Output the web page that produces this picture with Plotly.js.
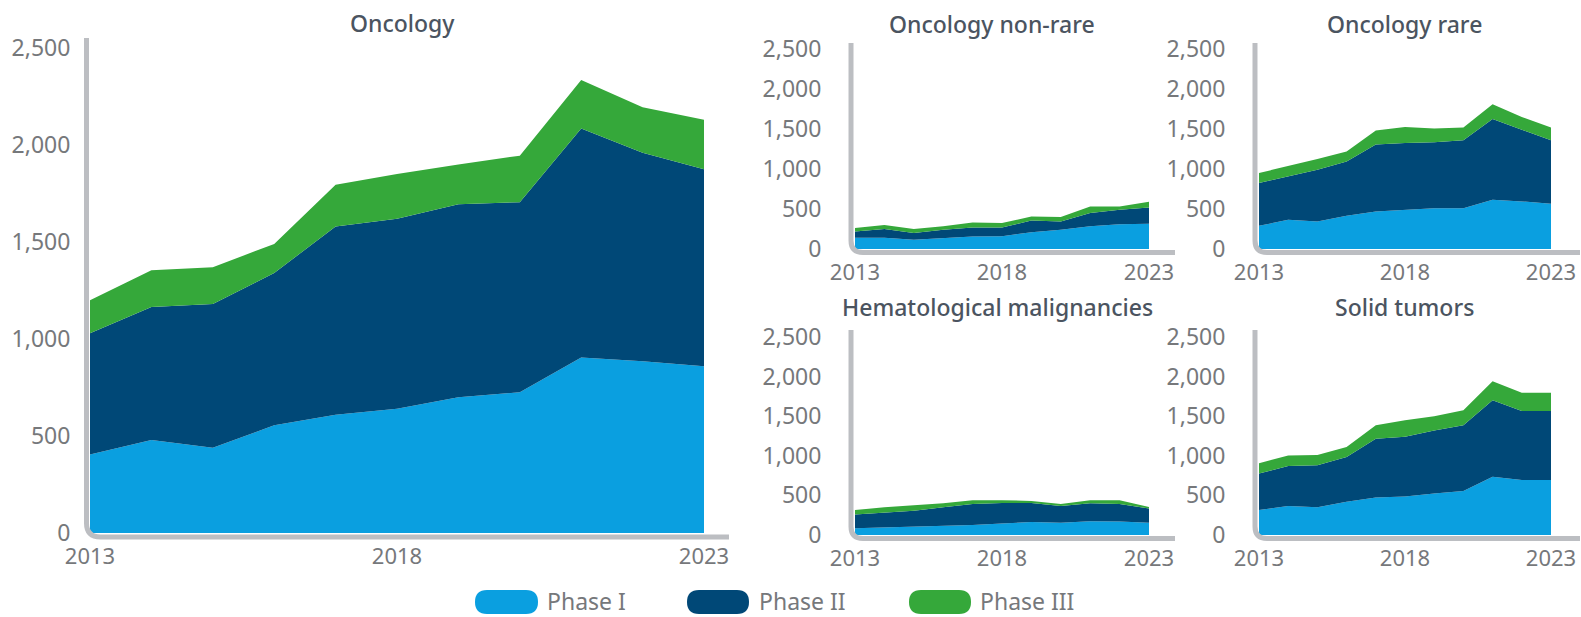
<!DOCTYPE html>
<html>
<head>
<meta charset="utf-8">
<script src="https://cdn.plot.ly/plotly-3.0.1.min.js"></script>
<style>
html,body{margin:0;padding:0;background:#fff;}
#chart{width:1581px;height:617px;}
</style>
</head>
<body>
<div id="chart"></div>
<script>
// ---------- data ----------
const years = [2013, 2014, 2015, 2016, 2017, 2018, 2019, 2020, 2021, 2022, 2023];
const phaseNames = ["Phase I", "Phase II", "Phase III"];
const panelTitles = ["Oncology", "Oncology non-rare", "Oncology rare", "Hematological malignancies", "Solid tumors"];
const yTickVals = [0, 500, 1000, 1500, 2000, 2500];
const xTickVals = [2013, 2018, 2023];

const oncologyPhase1 = [405, 480, 440, 555, 610, 640, 700, 725, 905, 885, 860];
const oncologyPhase2 = [625, 685, 740, 785, 970, 980, 995, 980, 1180, 1075, 1015];
const oncologyPhase3 = [170, 190, 190, 150, 215, 230, 205, 240, 250, 235, 255];

const nonRarePhase1 = [140, 140, 115, 135, 155, 160, 210, 240, 285, 310, 315];
const nonRarePhase2 = [80, 110, 85, 105, 115, 110, 145, 105, 165, 180, 205];
const nonRarePhase3 = [42, 50, 50, 43, 60, 55, 50, 55, 80, 40, 70];

const rarePhase1 = [290, 365, 345, 415, 470, 490, 510, 510, 615, 595, 565];
const rarePhase2 = [535, 545, 645, 680, 835, 835, 825, 850, 1010, 895, 795];
const rarePhase3 = [125, 125, 135, 125, 175, 200, 170, 160, 185, 160, 160];

const hemaPhase1 = [85, 95, 105, 120, 125, 145, 165, 155, 175, 170, 155];
const hemaPhase2 = [175, 190, 200, 230, 265, 260, 240, 210, 225, 220, 180];
const hemaPhase3 = [55, 65, 70, 50, 50, 35, 25, 25, 40, 50, 20];

const solidPhase1 = [315, 365, 350, 420, 475, 485, 525, 555, 735, 695, 695];
const solidPhase2 = [460, 505, 530, 565, 740, 755, 795, 830, 965, 870, 870];
const solidPhase3 = [130, 135, 130, 125, 170, 210, 180, 190, 240, 230, 230];

// ---------- styling ----------
const W = 1581, H = 617;
const px = v => v / W;
const py = v => 1 - v / H;
const colors = ["#0a9fe0", "#004877", "#35a83a"];
const axisGray = "#bcbec2";
const tickColor = "#76787b";
const titleColor = "#4b5460";
const FONT = "Noto Sans, Open Sans, sans-serif";

// panel geometry in pixels
const panels = [
  {sets: [oncologyPhase1, oncologyPhase2, oncologyPhase3], x0: 90, x1: 704, y0: 533, y1: 48, lx: 86.5, ly: 537, ltop: 38, lend: 729, r: 14, title: [402, 23], yStand: 14},
  {sets: [nonRarePhase1, nonRarePhase2, nonRarePhase3], x0: 855, x1: 1149, y0: 249, y1: 49, lx: 851, ly: 252.5, ltop: 43, lend: 1175, r: 12, title: [992, 24], yStand: 28},
  {sets: [rarePhase1, rarePhase2, rarePhase3], x0: 1259, x1: 1551, y0: 249, y1: 49, lx: 1255, ly: 252.5, ltop: 43, lend: 1580, r: 12, title: [1404, 24], yStand: 28},
  {sets: [hemaPhase1, hemaPhase2, hemaPhase3], x0: 855, x1: 1149, y0: 535, y1: 337, lx: 851, ly: 538.5, ltop: 330, lend: 1175, r: 12, title: [997, 307], yStand: 28},
  {sets: [solidPhase1, solidPhase2, solidPhase3], x0: 1259, x1: 1551, y0: 535, y1: 337, lx: 1255, ly: 538.5, ltop: 330, lend: 1580, r: 12, title: [1404, 307], yStand: 28}
];

const traces = [];
const layout = {
  width: W, height: H,
  margin: {l: 0, r: 0, t: 0, b: 0, pad: 0},
  paper_bgcolor: "#ffffff", plot_bgcolor: "rgba(0,0,0,0)",
  showlegend: false,
  font: {family: FONT, color: tickColor},
  shapes: [], annotations: []
};

const f = v => v.toFixed(5);

panels.forEach((p, i) => {
  const sfx = i === 0 ? "" : String(i + 1);
  const xa = "x" + sfx, ya = "y" + sfx;
  p.sets.forEach((vals, k) => {
    traces.push({
      type: "scatter", mode: "lines",
      x: years, y: vals,
      xaxis: xa, yaxis: ya,
      stackgroup: "g" + i,
      name: phaseNames[k],
      line: {width: 0, color: colors[k]},
      fillcolor: colors[k],
      hoverinfo: "x+y+name"
    });
  });
  layout["xaxis" + sfx] = {
    domain: [px(p.x0), px(p.x1)], range: [2013, 2023], anchor: ya,
    showgrid: false, zeroline: false, showline: false,
    tickvals: xTickVals, ticks: "outside", ticklen: 4, tickcolor: "rgba(0,0,0,0)",
    tickfont: {family: FONT, size: 22, color: tickColor}, fixedrange: true
  };
  layout["yaxis" + sfx] = {
    domain: [py(p.y0), py(p.y1)], range: [0, 2500], anchor: xa,
    showgrid: false, zeroline: false, showline: false,
    tickvals: yTickVals, tickformat: ",d", ticks: "outside", ticklen: p.yStand, tickcolor: "rgba(0,0,0,0)",
    tickfont: {family: FONT, size: 23, color: tickColor}, fixedrange: true
  };
  const X = p.lx, Y = p.ly, r = p.r;
  layout.shapes.push({
    type: "path", xref: "paper", yref: "paper", layer: "above",
    path: `M ${f(px(X))},${f(py(Y - r))} Q ${f(px(X))},${f(py(Y))} ${f(px(X + r))},${f(py(Y))} L ${f(px(X + r))},${f(py(Y + 4))} L ${f(px(X - 4))},${f(py(Y + 4))} L ${f(px(X - 4))},${f(py(Y - r))} Z`,
    fillcolor: "#ffffff", line: {width: 0}
  });
  layout.shapes.push({
    type: "path", xref: "paper", yref: "paper", layer: "above",
    path: `M ${f(px(X))},${f(py(p.ltop))} L ${f(px(X))},${f(py(Y - r))} Q ${f(px(X))},${f(py(Y))} ${f(px(X + r))},${f(py(Y))} L ${f(px(p.lend))},${f(py(Y))}`,
    line: {color: axisGray, width: 5}
  });
  layout.annotations.push({
    xref: "paper", yref: "paper", x: px(p.title[0]), y: py(p.title[1]),
    xanchor: "center", yanchor: "middle", showarrow: false,
    text: panelTitles[i],
    font: {family: FONT, size: 23, color: titleColor, weight: 500}
  });
});

// custom legend: pill swatches + labels
const legendItems = [
  {sx0: 475, sx1: 538, tx: 546},
  {sx0: 687, sx1: 749, tx: 758},
  {sx0: 909, sx1: 971, tx: 979}
];
legendItems.forEach((it, k) => {
  const yTop = 590, yBot = 614, rr = 12;
  const a = it.sx0, b = it.sx1;
  layout.shapes.push({
    type: "path", xref: "paper", yref: "paper", layer: "above",
    path: `M ${f(px(a + rr))},${f(py(yTop))} L ${f(px(b - rr))},${f(py(yTop))} Q ${f(px(b))},${f(py(yTop))} ${f(px(b))},${f(py((yTop + yBot) / 2))} Q ${f(px(b))},${f(py(yBot))} ${f(px(b - rr))},${f(py(yBot))} L ${f(px(a + rr))},${f(py(yBot))} Q ${f(px(a))},${f(py(yBot))} ${f(px(a))},${f(py((yTop + yBot) / 2))} Q ${f(px(a))},${f(py(yTop))} ${f(px(a + rr))},${f(py(yTop))} Z`,
    fillcolor: colors[k], line: {width: 0}
  });
  layout.annotations.push({
    xref: "paper", yref: "paper", x: px(it.tx), y: py(601),
    xanchor: "left", yanchor: "middle", showarrow: false,
    height: 26, borderpad: 0,
    text: phaseNames[k],
    font: {family: FONT, size: 23, color: tickColor}
  });
});

Plotly.newPlot("chart", traces, layout, {displayModeBar: false, staticPlot: true});
</script>
</body>
</html>
